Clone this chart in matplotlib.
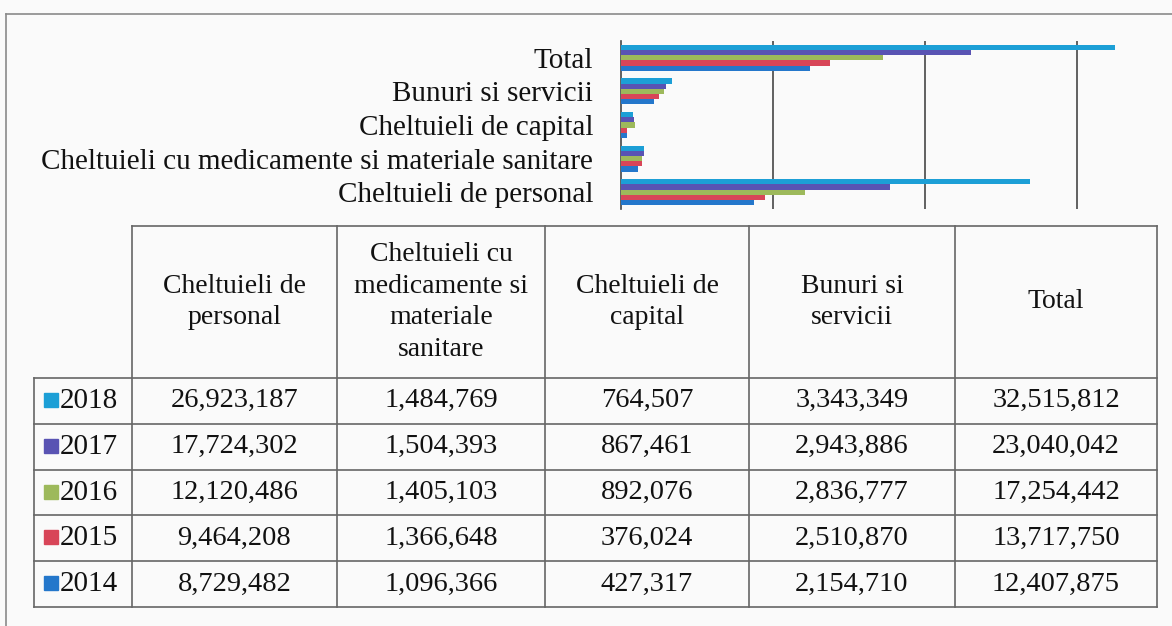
"""Cheltuieli pe categorii 2014-2018: horizontal bars with an Excel-style data table underneath."""
import matplotlib
matplotlib.use("Agg")
import matplotlib.pyplot as plt
import numpy as np

plt.rcParams["font.family"] = ["Liberation Serif", "DejaVu Serif"]

W, H = 1172, 626

categories = ["Cheltuieli de personal",
              "Cheltuieli cu medicamente si materiale sanitare",
              "Cheltuieli de capital",
              "Bunuri si servicii",
              "Total"]
header_labels = ["Cheltuieli de\npersonal",
                 "Cheltuieli cu\nmedicamente si\nmateriale\nsanitare",
                 "Cheltuieli de\ncapital",
                 "Bunuri si\nservicii",
                 "Total"]
years = ["2018", "2017", "2016", "2015", "2014"]

v2018 = [26923187, 1484769, 764507, 3343349, 32515812]
v2017 = [17724302, 1504393, 867461, 2943886, 23040042]
v2016 = [12120486, 1405103, 892076, 2836777, 17254442]
v2015 = [9464208, 1366648, 376024, 2510870, 13717750]
v2014 = [8729482, 1096366, 427317, 2154710, 12407875]
values = [v2018, v2017, v2016, v2015, v2014]

colors = ["#1C9FD6", "#5953B3", "#9DB95B", "#D84558", "#2477CB"]

GRID = "#474747"
LINE = "#666666"
TXT = "#111111"


def fx(px):
    return px / W


def fy(py):
    return 1 - py / H


fig = plt.figure(figsize=(W / 100, H / 100), dpi=100)
fig.patch.set_facecolor("#fafafa")

# ---- bar part
ax = fig.add_axes([fx(621), fy(209), fx(1153 - 621), (209 - 41) / H])
ax.set_facecolor("none")
n = len(years)
h = 0.155
ypos = np.arange(len(categories))
for i, (yr, vals, c) in enumerate(zip(years, values, colors)):
    # 2018 on top of each group, 2014 at the bottom
    off = (n - 1 - i - (n - 1) / 2) * h
    ax.barh(ypos + off, vals, height=h, color=c, zorder=3)

ax.set_xlim(0, 35e6)
ax.set_ylim(-0.5, len(categories) - 0.5)
ax.set_xticks([10e6, 20e6, 30e6])
ax.xaxis.grid(True, color=GRID, linewidth=1.2)
ax.tick_params(axis="x", length=0, labelbottom=False)
ax.set_yticks(ypos)
ax.set_yticklabels(categories, fontsize=21, color=TXT)
ax.tick_params(axis="y", length=0, pad=20)
for s in ["top", "right", "bottom"]:
    ax.spines[s].set_visible(False)
ax.spines["left"].set_color(GRID)
ax.spines["left"].set_linewidth(1.2)

# ---- data table + chart border, drawn in pixel coordinates
tax = fig.add_axes([0, 0, 1, 1])
tax.set_xlim(0, W)
tax.set_ylim(H, 0)
tax.axis("off")

tax.plot([6, 6], [14, H], color="#8a8a8a", lw=1.2)
tax.plot([6, W], [14, 14], color="#8a8a8a", lw=1.2)

col_x = [34, 132, 337, 545, 749, 955, 1157]
head_top, head_bot = 226, 378
row_h = 45.8
row_y = [head_bot + k * row_h for k in range(len(years) + 1)]

# header row (no row-header cell on its left)
tax.plot([col_x[1], col_x[-1]], [head_top, head_top], color=LINE, lw=1.2)
for x in col_x[1:]:
    tax.plot([x, x], [head_top, row_y[-1]], color=LINE, lw=1.2)
tax.plot([col_x[0], col_x[0]], [head_bot, row_y[-1]], color=LINE, lw=1.2)
for y in row_y:
    tax.plot([col_x[0], col_x[-1]], [y, y], color=LINE, lw=1.2)

for j, lab in enumerate(header_labels):
    cx = (col_x[j + 1] + col_x[j + 2]) / 2
    tax.text(cx, (head_top + head_bot) / 2, lab, ha="center", va="center",
             fontsize=20, color=TXT, linespacing=1.35)

for i, (yr, vals, c) in enumerate(zip(years, values, colors)):
    cy = (row_y[i] + row_y[i + 1]) / 2
    tax.add_patch(plt.Rectangle((44, cy - 8), 14, 14, color=c))
    tax.text(60, cy, yr, ha="left", va="center", fontsize=21, color=TXT)
    for j, v in enumerate(vals):
        cx = (col_x[j + 1] + col_x[j + 2]) / 2
        tax.text(cx, cy, "{:,}".format(v), ha="center", va="center",
                 fontsize=20.5, color=TXT)

fig.savefig("out.png", dpi=100, facecolor=fig.get_facecolor())
